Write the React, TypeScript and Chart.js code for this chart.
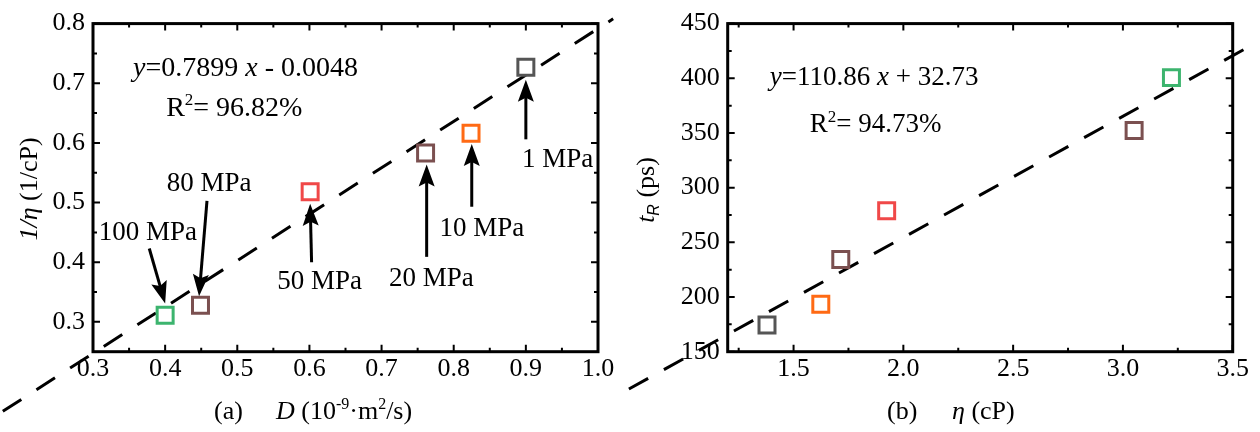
import { useEffect, useRef } from 'react';
import { Chart, registerables } from 'chart.js';

Chart.register(...registerables);

const SERIF = "'Liberation Serif', 'Times New Roman', serif";
const SANS = "'Liberation Sans', Arial, sans-serif";
Chart.defaults.font.family = SERIF;
Chart.defaults.color = '#000';

const GREEN = '#3cb46e';
const BROWN = '#7b5050';
const RED = '#f04848';
const ORANGE = '#ff6a14';
const GRAY = '#555555';

// ---------- Panel (a): 1/eta vs D ----------
const pressureLabelsA = ['100 MPa', '80 MPa', '50 MPa', '20 MPa', '10 MPa', '1 MPa'];
const diffusionD = [0.4, 0.449, 0.601, 0.761, 0.824, 0.9];
const inverseViscosity = [0.311, 0.328, 0.518, 0.583, 0.616, 0.727];
const markerColorsA = [GREEN, BROWN, RED, BROWN, ORANGE, GRAY];
const fitLineAx = [0.175, 1.021];
const fitLineAy = [0.15, 0.808];
const xTicksA = [0.3, 0.4, 0.5, 0.6, 0.7, 0.8, 0.9, 1.0];
const xMinorA = [0.35, 0.45, 0.55, 0.65, 0.75, 0.85, 0.95];
const yTicksA = [0.3, 0.4, 0.5, 0.6, 0.7, 0.8];
const yMinorA = [0.35, 0.45, 0.55, 0.65, 0.75];
const labelXA = [0.376, 0.461, 0.614, 0.769, 0.839, 0.944];
const labelYA = [0.451, 0.533, 0.368, 0.374, 0.458, 0.573];
const arrowTailXA = [0.378, 0.458, 0.603, 0.7625, 0.825, 0.9];
const arrowTailYA = [0.423, 0.503, 0.4, 0.409, 0.493, 0.606];
const arrowTipXA = [0.4, 0.447, 0.601, 0.7625, 0.825, 0.9];
const arrowTipYA = [0.331, 0.343, 0.498, 0.564, 0.598, 0.706];
const equationA = { x: 0.3556, y: 0.7128, slope: '0.7899', intercept: '- 0.0048', r2: '96.82%', r2x: 0.4014, r2y: 0.6445 };

// ---------- Panel (b): t_R vs eta ----------
const viscosityEta = [1.379, 1.624, 1.715, 1.924, 3.051, 3.221];
const rotationTime = [174.5, 193.4, 234.3, 278.8, 352.2, 400.6];
const markerColorsB = [GRAY, ORANGE, BROWN, RED, BROWN, GREEN];
const fitLineBx = [0.75, 3.62];
const fitLineBy = [115.9, 434.0];
const xTicksB = [1.5, 2.0, 2.5, 3.0, 3.5];
const xMinorB = [1.25, 1.75, 2.25, 2.75, 3.25];
const yTicksB = [150, 200, 250, 300, 350, 400, 450];
const yMinorB = [175, 225, 275, 325, 375, 425];
const equationB = { x: 1.392, y: 394.3, slope: '110.86', intercept: '+ 32.73', r2: '94.73%', r2x: 1.574, r2y: 350.6 };

type Seg = { t: string; it?: boolean; sup?: boolean; sub?: boolean; fam?: string };

function drawRich(ctx: CanvasRenderingContext2D, segs: Seg[], x: number, y: number, size: number, align: 'left' | 'center' = 'left') {
  const fontFor = (s: Seg) => `${s.it ? 'italic ' : ''}${s.sup || s.sub ? Math.round(size * 0.62) : size}px ${s.fam || SERIF}`;
  const widths = segs.map((s) => {
    ctx.font = fontFor(s);
    return ctx.measureText(s.t).width;
  });
  const total = widths.reduce((a, b) => a + b, 0);
  let cx = align === 'center' ? x - total / 2 : x;
  ctx.textAlign = 'left';
  ctx.textBaseline = 'alphabetic';
  ctx.fillStyle = '#000';
  segs.forEach((s, i) => {
    ctx.font = fontFor(s);
    const dy = s.sup ? -size * 0.4 : s.sub ? size * 0.2 : 0;
    ctx.fillText(s.t, cx, y + dy);
    cx += widths[i];
  });
}

function drawArrow(ctx: CanvasRenderingContext2D, x1: number, y1: number, x2: number, y2: number) {
  const ang = Math.atan2(y2 - y1, x2 - x1);
  const c = Math.cos(ang);
  const s = Math.sin(ang);
  const L = 22;
  const W = 8;
  const notch = 4;
  ctx.save();
  ctx.strokeStyle = '#000';
  ctx.fillStyle = '#000';
  ctx.lineWidth = 3;
  ctx.beginPath();
  ctx.moveTo(x1, y1);
  ctx.lineTo(x2 - c * (L - notch - 1), y2 - s * (L - notch - 1));
  ctx.stroke();
  ctx.beginPath();
  ctx.moveTo(x2, y2);
  ctx.lineTo(x2 - L * c - W * s, y2 - L * s + W * c);
  ctx.lineTo(x2 - (L - notch) * c, y2 - (L - notch) * s);
  ctx.lineTo(x2 - L * c + W * s, y2 - L * s - W * c);
  ctx.closePath();
  ctx.fill();
  ctx.restore();
}

function drawFrame(chart: any, xMaj: number[], xMin: number[], yMaj: number[], yMin: number[]) {
  const { ctx, chartArea: a, scales } = chart;
  const sx = scales.x;
  const sy = scales.y;
  ctx.save();
  ctx.strokeStyle = '#000';
  ctx.lineWidth = 2;
  ctx.beginPath();
  const xt = (vals: number[], len: number) => {
    vals.forEach((v) => {
      const p = sx.getPixelForValue(v);
      ctx.moveTo(p, a.bottom);
      ctx.lineTo(p, a.bottom - len);
      ctx.moveTo(p, a.top);
      ctx.lineTo(p, a.top + len);
    });
  };
  const yt = (vals: number[], len: number) => {
    vals.forEach((v) => {
      const p = sy.getPixelForValue(v);
      ctx.moveTo(a.left, p);
      ctx.lineTo(a.left + len, p);
      ctx.moveTo(a.right, p);
      ctx.lineTo(a.right - len, p);
    });
  };
  xt(xMaj, 7);
  xt(xMin, 4);
  yt(yMaj, 7);
  yt(yMin, 4);
  ctx.stroke();
  ctx.lineWidth = 3;
  ctx.strokeRect(a.left, a.top, a.right - a.left, a.bottom - a.top);
  ctx.restore();
}

function makeScales(opts: {
  xmin: number; xmax: number; ymin: number; ymax: number;
  xt: number[]; yt: number[]; xfmt: (v: number) => string; yfmt: (v: number) => string;
  yWidth: number; xHeight: number;
}) {
  const font = { family: SERIF, size: 26 };
  return {
    x: {
      type: 'linear',
      min: opts.xmin,
      max: opts.xmax,
      afterBuildTicks: (s: any) => { s.ticks = opts.xt.map((v) => ({ value: v })); },
      afterFit: (s: any) => { s.height = opts.xHeight; },
      ticks: { font, color: '#000', padding: 2, maxRotation: 0, autoSkip: false, callback: (v: any) => opts.xfmt(Number(v)) },
      grid: { display: false, drawTicks: false },
      border: { display: false },
    },
    y: {
      type: 'linear',
      min: opts.ymin,
      max: opts.ymax,
      afterBuildTicks: (s: any) => { s.ticks = opts.yt.map((v) => ({ value: v })); },
      afterFit: (s: any) => { s.width = opts.yWidth; },
      ticks: { font, color: '#000', padding: 8, autoSkip: false, callback: (v: any) => opts.yfmt(Number(v)) },
      grid: { display: false, drawTicks: false },
      border: { display: false },
    },
  };
}

function scatterData(xs: number[], ys: number[]) {
  return xs.map((x, i) => ({ x, y: ys[i] }));
}

export default function App() {
  const refA = useRef<HTMLCanvasElement>(null);
  const refB = useRef<HTMLCanvasElement>(null);

  useEffect(() => {
    const decorA = {
      id: 'decorA',
      afterDatasetsDraw(chart: any) {
        const { ctx, scales } = chart;
        const sx = scales.x;
        const sy = scales.y;
        drawFrame(chart, xTicksA, xMinorA, yTicksA, yMinorA);
        ctx.save();
        pressureLabelsA.forEach((lab, i) => {
          drawArrow(ctx, sx.getPixelForValue(arrowTailXA[i]), sy.getPixelForValue(arrowTailYA[i]),
            sx.getPixelForValue(arrowTipXA[i]), sy.getPixelForValue(arrowTipYA[i]));
          ctx.font = `27px ${SERIF}`;
          ctx.fillStyle = '#000';
          ctx.textAlign = 'center';
          ctx.textBaseline = 'middle';
          ctx.fillText(lab, sx.getPixelForValue(labelXA[i]), sy.getPixelForValue(labelYA[i]) + 1);
        });
        drawRich(ctx, [{ t: 'y', it: true }, { t: '=' + equationA.slope + ' ' }, { t: 'x', it: true }, { t: ' ' + equationA.intercept }],
          sx.getPixelForValue(equationA.x), sy.getPixelForValue(equationA.y), 28);
        drawRich(ctx, [{ t: 'R' }, { t: '2', sup: true }, { t: '= ' + equationA.r2 }],
          sx.getPixelForValue(equationA.r2x), sy.getPixelForValue(equationA.r2y), 28);
        // axis titles
        drawRich(ctx, [{ t: '(a)' }], 214, 419, 26);
        drawRich(ctx, [{ t: 'D', it: true }, { t: ' (10' }, { t: '-9', sup: true }, { t: '·m' }, { t: '2', sup: true }, { t: '/s)' }], 276, 419, 26);
        ctx.save();
        ctx.translate(37, 189);
        ctx.rotate(-Math.PI / 2);
        drawRich(ctx, [{ t: '1/η', it: true }, { t: ' (1/cP)' }], 0, 0, 26, 'center');
        ctx.restore();
        ctx.restore();
      },
    };

    const decorB = {
      id: 'decorB',
      afterDatasetsDraw(chart: any) {
        const { ctx, scales } = chart;
        const sx = scales.x;
        const sy = scales.y;
        drawFrame(chart, xTicksB, xMinorB, yTicksB, yMinorB);
        ctx.save();
        drawRich(ctx, [{ t: 'y', it: true }, { t: '=' + equationB.slope + ' ' }, { t: 'x', it: true }, { t: ' ' + equationB.intercept }],
          sx.getPixelForValue(equationB.x), sy.getPixelForValue(equationB.y), 27);
        drawRich(ctx, [{ t: 'R' }, { t: '2', sup: true }, { t: '= ' + equationB.r2 }],
          sx.getPixelForValue(equationB.r2x), sy.getPixelForValue(equationB.r2y), 27);
        drawRich(ctx, [{ t: '(b)' }], 267, 419, 26);
        drawRich(ctx, [{ t: 'η', it: true }, { t: ' (cP)' }], 332, 419, 26);
        ctx.save();
        ctx.translate(34, 190);
        ctx.rotate(-Math.PI / 2);
        drawRich(ctx, [{ t: 't', it: true }, { t: 'R', it: true, sub: true, fam: SANS }, { t: ' (ps)' }], 0, 0, 26, 'center');
        ctx.restore();
        ctx.restore();
      },
    };

    const common = (colors: string[]) => ({
      pointStyle: 'rect',
      pointRadius: 11.3,
      pointBorderWidth: 3,
      pointBorderColor: colors,
      pointBackgroundColor: '#ffffff',
      showLine: false,
      clip: false,
      order: 0,
    });
    const lineDs = {
      showLine: true,
      borderColor: '#000',
      borderWidth: 3,
      borderDash: [22, 18],
      pointRadius: 0,
      clip: false,
      order: 1,
    };

    const chartA = new Chart(refA.current as HTMLCanvasElement, {
      type: 'scatter',
      data: {
        datasets: [
          { ...common(markerColorsA), data: scatterData(diffusionD, inverseViscosity) } as any,
          { ...lineDs, data: scatterData(fitLineAx, fitLineAy) } as any,
        ],
      },
      options: {
        animation: false,
        responsive: false,
        events: [],
        layout: { padding: { top: 21.7, right: 22, left: 0, bottom: 0 } },
        plugins: { legend: { display: false }, tooltip: { enabled: false } },
        scales: makeScales({
          xmin: 0.3, xmax: 1.0, ymin: 0.25, ymax: 0.8,
          xt: xTicksA, yt: yTicksA,
          xfmt: (v) => v.toFixed(1), yfmt: (v) => v.toFixed(1),
          yWidth: 93, xHeight: 80.3,
        }) as any,
      },
      plugins: [decorA],
    });

    const chartB = new Chart(refB.current as HTMLCanvasElement, {
      type: 'scatter',
      data: {
        datasets: [
          { ...common(markerColorsB), data: scatterData(viscosityEta, rotationTime) } as any,
          { ...lineDs, data: scatterData(fitLineBx, fitLineBy) } as any,
        ],
      },
      options: {
        animation: false,
        responsive: false,
        events: [],
        layout: { padding: { top: 21.7, right: 27.3, left: 0, bottom: 0 } },
        plugins: { legend: { display: false }, tooltip: { enabled: false } },
        scales: makeScales({
          xmin: 1.2, xmax: 3.5, ymin: 150, ymax: 450,
          xt: xTicksB, yt: yTicksB,
          xfmt: (v) => v.toFixed(1), yfmt: (v) => String(Math.round(v)),
          yWidth: 107.7, xHeight: 80.3,
        }) as any,
      },
      plugins: [decorB],
    });

    return () => {
      chartA.destroy();
      chartB.destroy();
    };
  }, []);

  return (
    <div style={{ position: 'absolute', left: 0, top: 0, width: 1260, height: 432, background: '#fff', overflow: 'hidden' }}>
      <canvas ref={refA} width={620} height={432} style={{ position: 'absolute', left: 0, top: 0, width: 620, height: 432 }} />
      <canvas ref={refB} width={640} height={432} style={{ position: 'absolute', left: 620, top: 0, width: 640, height: 432 }} />
    </div>
  );
}
